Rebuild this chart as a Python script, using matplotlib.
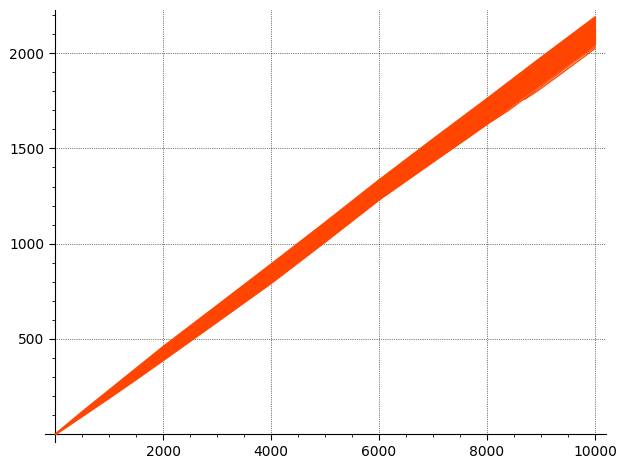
import matplotlib
matplotlib.use("Agg")
import matplotlib.pyplot as plt
from matplotlib.ticker import MultipleLocator, FixedLocator

# Envelope of the dense oscillating trace
band_x = [0, 500, 1000, 1500, 2000, 3000, 4000, 5000, 6000, 7000, 8000, 9000, 10000]
band_lower = [0, 96, 192, 290, 390, 592, 795, 1012, 1233, 1432, 1630, 1840, 2048]
band_upper = [0, 118, 232, 346, 460, 676, 893, 1112, 1335, 1550, 1762, 1978, 2190]

# A few stray strands just under the band near the right end
stray1_x = [8100, 8400, 8800, 9300, 9700, 10000]
stray1_y = [1645, 1700, 1784, 1889, 1973, 2035]
stray2_x = [8700, 8950, 9400, 9800, 10000]
stray2_y = [1758, 1805, 1898, 1982, 2025]

x_major = [2000, 4000, 6000, 8000, 10000]
y_major = [500, 1000, 1500, 2000]

color = "#ff4500"

fig = plt.figure(figsize=(6.27, 4.68), dpi=100)
ax = fig.add_axes([0.071, 0.0547, 0.895, 0.9243])

ax.fill_between(band_x, band_lower, band_upper, color=color, lw=1.0, zorder=3)
ax.plot(band_x, band_lower, color=color, lw=1.0, zorder=3)
ax.plot(band_x, band_upper, color=color, lw=1.0, zorder=3)
ax.plot(stray1_x, stray1_y, color=color, lw=1.0, zorder=3)
ax.plot(stray2_x, stray2_y, color=color, lw=1.0, zorder=3)

ax.set_xlim(-200, 10200)
ax.set_ylim(-44, 2228)

# Sage-like axes crossing at the origin
ax.spines["left"].set_position(("data", 0))
ax.spines["bottom"].set_position(("data", 0))
ax.spines["top"].set_visible(False)
ax.spines["right"].set_visible(False)
ax.xaxis.set_ticks_position("bottom")
ax.yaxis.set_ticks_position("left")

ax.xaxis.set_major_locator(FixedLocator(x_major))
ax.yaxis.set_major_locator(FixedLocator(y_major))
ax.xaxis.set_minor_locator(MultipleLocator(500))
ax.yaxis.set_minor_locator(MultipleLocator(100))
ax.tick_params(axis="both", which="major", labelsize=10, length=4.5, width=0.8)
ax.tick_params(axis="both", which="minor", length=2.5, width=0.6)

# gridlines from the axes to the far edges
ax.vlines(x_major, 0, 2228, colors="black", linestyles=":", lw=0.5, zorder=1)
ax.hlines(y_major, 0, 10200, colors="black", linestyles=":", lw=0.5, zorder=1)

fig.savefig("out.png", dpi=100)
